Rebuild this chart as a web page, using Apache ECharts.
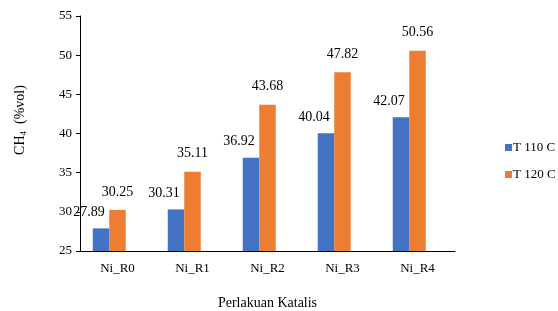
<!DOCTYPE html>
<html>
<head>
<meta charset="utf-8">
<script src="https://cdn.jsdelivr.net/npm/echarts@6/dist/echarts.min.js"></script>
<style>
  html, body { margin: 0; padding: 0; background: #fff; }
  #chart { width: 558px; height: 311px; }
</style>
</head>
<body>
<div id="chart"></div>
<script>
// data
const categories = ['Ni_R0', 'Ni_R1', 'Ni_R2', 'Ni_R3', 'Ni_R4']
const seriesNames = ['T 110 C', 'T 120 C']
const t110 = [27.89, 30.31, 36.92, 40.04, 42.07]
const t120 = [30.25, 35.11, 43.68, 47.82, 50.56]
const yTicks = { min: 25, max: 55, interval: 5 }

const font = '"Liberation Serif", "Times New Roman", serif'
const black = '#000'

const myChart = echarts.init(document.getElementById('chart'))

function barSeries(name, data, color, offset) {
  return {
    name,
    type: 'bar',
    data,
    barWidth: 16.5,
    barGap: '0%',
    itemStyle: { color },
    label: {
      show: true,
      position: 'top',
      distance: 5,
      offset,
      color: black,
      fontFamily: font,
      fontSize: 14,
      formatter: (p) => p.value.toFixed(2),
    },
  }
}

const option = {
  animation: false,
  textStyle: { fontFamily: font },
  grid: {
    left: 80,
    right: 103,
    top: 16,
    bottom: 60,
    containLabel: false,
    outerBoundsMode: 'none',
  },
  legend: {
    data: seriesNames,
    orient: 'vertical',
    left: 500,
    top: 136,
    itemWidth: 7,
    itemHeight: 7,
    itemGap: 14,
    icon: 'rect',
    textStyle: { color: black, fontFamily: font, fontSize: 13, padding: [0, 0, 0, -4] },
  },
  xAxis: {
    type: 'category',
    data: categories,
    name: 'Perlakuan Katalis',
    nameLocation: 'middle',
    nameGap: 45,
    nameTextStyle: { color: black, fontFamily: font, fontSize: 14 },
    axisLine: { lineStyle: { color: black, width: 1 } },
    axisTick: { show: false },
    axisLabel: { color: black, fontFamily: font, fontSize: 13, margin: 11 },
  },
  yAxis: {
    type: 'value',
    min: yTicks.min,
    max: yTicks.max,
    interval: yTicks.interval,
    name: '{a|CH}{s|4}{a|  (%vol)}',
    nameLocation: 'middle',
    nameGap: 52,
    nameTextStyle: {
      padding: [0, 0, 0, 27],
      rich: {
        a: { color: black, fontFamily: font, fontSize: 14 },
        s: { color: black, fontFamily: font, fontSize: 9, verticalAlign: 'bottom', padding: [6, 0, 0, 0] },
      },
    },
    splitLine: { show: false },
    axisLine: { show: true, lineStyle: { color: black, width: 1 } },
    axisTick: { show: true, length: 4, lineStyle: { color: black } },
    axisLabel: { color: black, fontFamily: font, fontSize: 13, margin: 8 },
  },
  series: [
    barSeries(seriesNames[0], t110, '#4472C4', [-12, -4]),
    barSeries(seriesNames[1], t120, '#ED7D31', [0, -6]),
    // empty third slot, the original chart leaves room for it
    { name: 'blank', type: 'bar', data: [], barWidth: 16.5, barGap: '0%' },
  ],
}

myChart.setOption(option)
</script>
</body>
</html>
